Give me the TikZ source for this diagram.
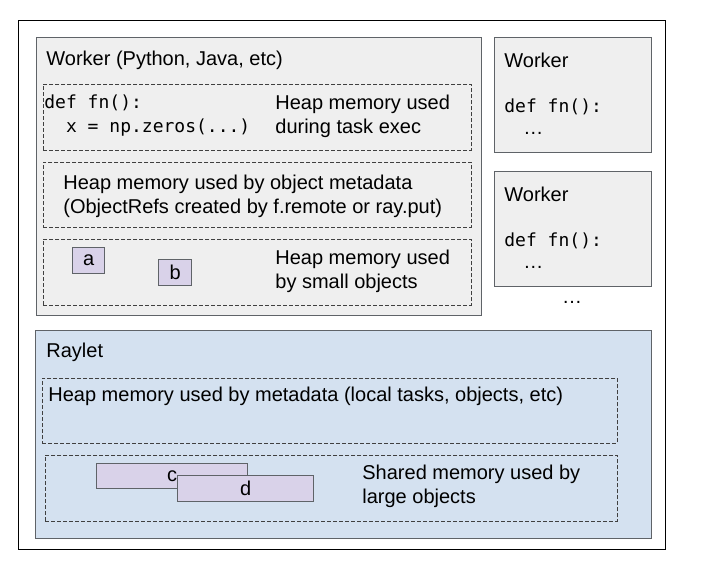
\documentclass[tikz,border=0pt]{standalone}
\usepackage{fontspec}
\setmainfont{Liberation Sans}
\setmonofont{DejaVu Sans Mono}
\usetikzlibrary{positioning}
\definecolor{grisworker}{HTML}{EFEFEF}
\definecolor{bordegris}{HTML}{5F6368}
\definecolor{azulraylet}{HTML}{D4E1F0}
\definecolor{lila}{HTML}{D9D2E9}
\tikzset{
    marco/.style={
        rectangle,                % caja exterior
        draw=black,               % borde negro fino
        line width=0.6pt,
        inner sep=0pt,
        anchor=north west         % se coloca por la esquina superior izquierda
    },
    procbox/.style={
        rectangle,
        draw=bordegris,           % borde gris oscuro
        fill=#1,                  % relleno segun el proceso
        line width=0.7pt,
        inner sep=0pt,
        anchor=north west
    },
    heapbox/.style={
        rectangle,
        draw=black!75,
        dash pattern=on 2pt off 1pt, % linea discontinua corta
        line width=0.45pt,
        inner sep=0pt,
        anchor=north west
    },
    objbox/.style={
        rectangle,
        draw=bordegris,
        fill=lila,                % objetos en lila claro
        line width=0.6pt,
        inner sep=0pt,
        anchor=north west
    },
    etiqueta/.style={
        font=\fontsize{10pt}{12pt}\selectfont, % texto tipo Arial
        align=left,
        inner sep=0pt,
        anchor=west
    },
    codigo/.style={
        etiqueta,
        font=\fontsize{9pt}{12pt}\selectfont\ttfamily % codigo en monoespaciada
    }
}
\begin{document}
\begin{tikzpicture}[x=0.5pt,y=-0.5pt]
    \useasboundingbox (0,0) rectangle (718,586);
    \node[marco, minimum width=323.5pt, minimum height=264.5pt] (nodo) at (18,20) {};
    % worker principal
    \node[procbox=grisworker, minimum width=222.5pt, minimum height=139pt] (worker) at (36,37) {};
    \node[etiqueta] (workertit) at (46,60) {Worker (Python, Java, etc)};
    \node[heapbox, minimum width=214pt, minimum height=33pt] (heapexec) at (43,84) {};
    \node[codigo] (codexec) at (44,116) {def fn():\\\ \ x = np.zeros(...)};
    \node[etiqueta] (txtexec) at (275,116) {Heap memory used\\during task exec};
    \node[heapbox, minimum width=214pt, minimum height=32.5pt] (heapmeta) at (43,162) {};
    \node[etiqueta] (txtmeta) at (63,196) {Heap memory used by object metadata\\(ObjectRefs created by f.remote or ray.put)};
    \node[heapbox, minimum width=214pt, minimum height=33pt] (heapsmall) at (43,239) {};
    \node[objbox, minimum width=16pt, minimum height=13pt] (obja) at (72,247) {};
    \node[etiqueta, anchor=center] at (obja.center) {a};
    \node[objbox, minimum width=16.5pt, minimum height=13pt] (objb) at (158,259) {};
    \node[etiqueta, anchor=center] at (objb.center) {b};
    \node[etiqueta] (txtsmall) at (275,271) {Heap memory used\\by small objects};
    % otros workers
    \node[procbox=grisworker, minimum width=78.5pt, minimum height=57.5pt] (workerdos) at (494,37) {};
    \node[etiqueta] (workerdostit) at (504,60) {Worker};
    \node[codigo] (coddos) at (504,107) {def fn():};
    \node[etiqueta] (puntosdos) at (523,133) {\ldots};
    \node[procbox=grisworker, minimum width=78.5pt, minimum height=57.5pt] (workertres) at (494,171) {};
    \node[etiqueta] (workertrestit) at (504,194) {Worker};
    \node[codigo] (codtres) at (504,241) {def fn():};
    \node[etiqueta] (puntostres) at (523,267) {\ldots};
    \node[etiqueta, anchor=center] (masworkers) at (572,302) {\ldots};
    % raylet
    \node[procbox=azulraylet, minimum width=308pt, minimum height=104pt] (raylet) at (35,330) {};
    \node[etiqueta] (raylettit) at (46,352) {Raylet};
    \node[heapbox, minimum width=287.5pt, minimum height=32.5pt] (rayletmeta) at (42,378) {};
    \node[etiqueta] (txtrmeta) at (48,396) {Heap memory used by metadata (local tasks, objects, etc)};
    \node[heapbox, minimum width=286pt, minimum height=33pt] (rayletshm) at (45,455) {};
    \node[objbox, minimum width=75.5pt, minimum height=12.5pt] (objc) at (96,463) {};
    \node[etiqueta, anchor=center] at (objc.center) {c};
    \node[objbox, minimum width=68pt, minimum height=13pt] (objd) at (177,475) {};
    \node[etiqueta, anchor=center] at (objd.center) {d};
    \node[etiqueta] (txtshm) at (362,486) {Shared memory used by\\large objects};
\end{tikzpicture}
\end{document}
